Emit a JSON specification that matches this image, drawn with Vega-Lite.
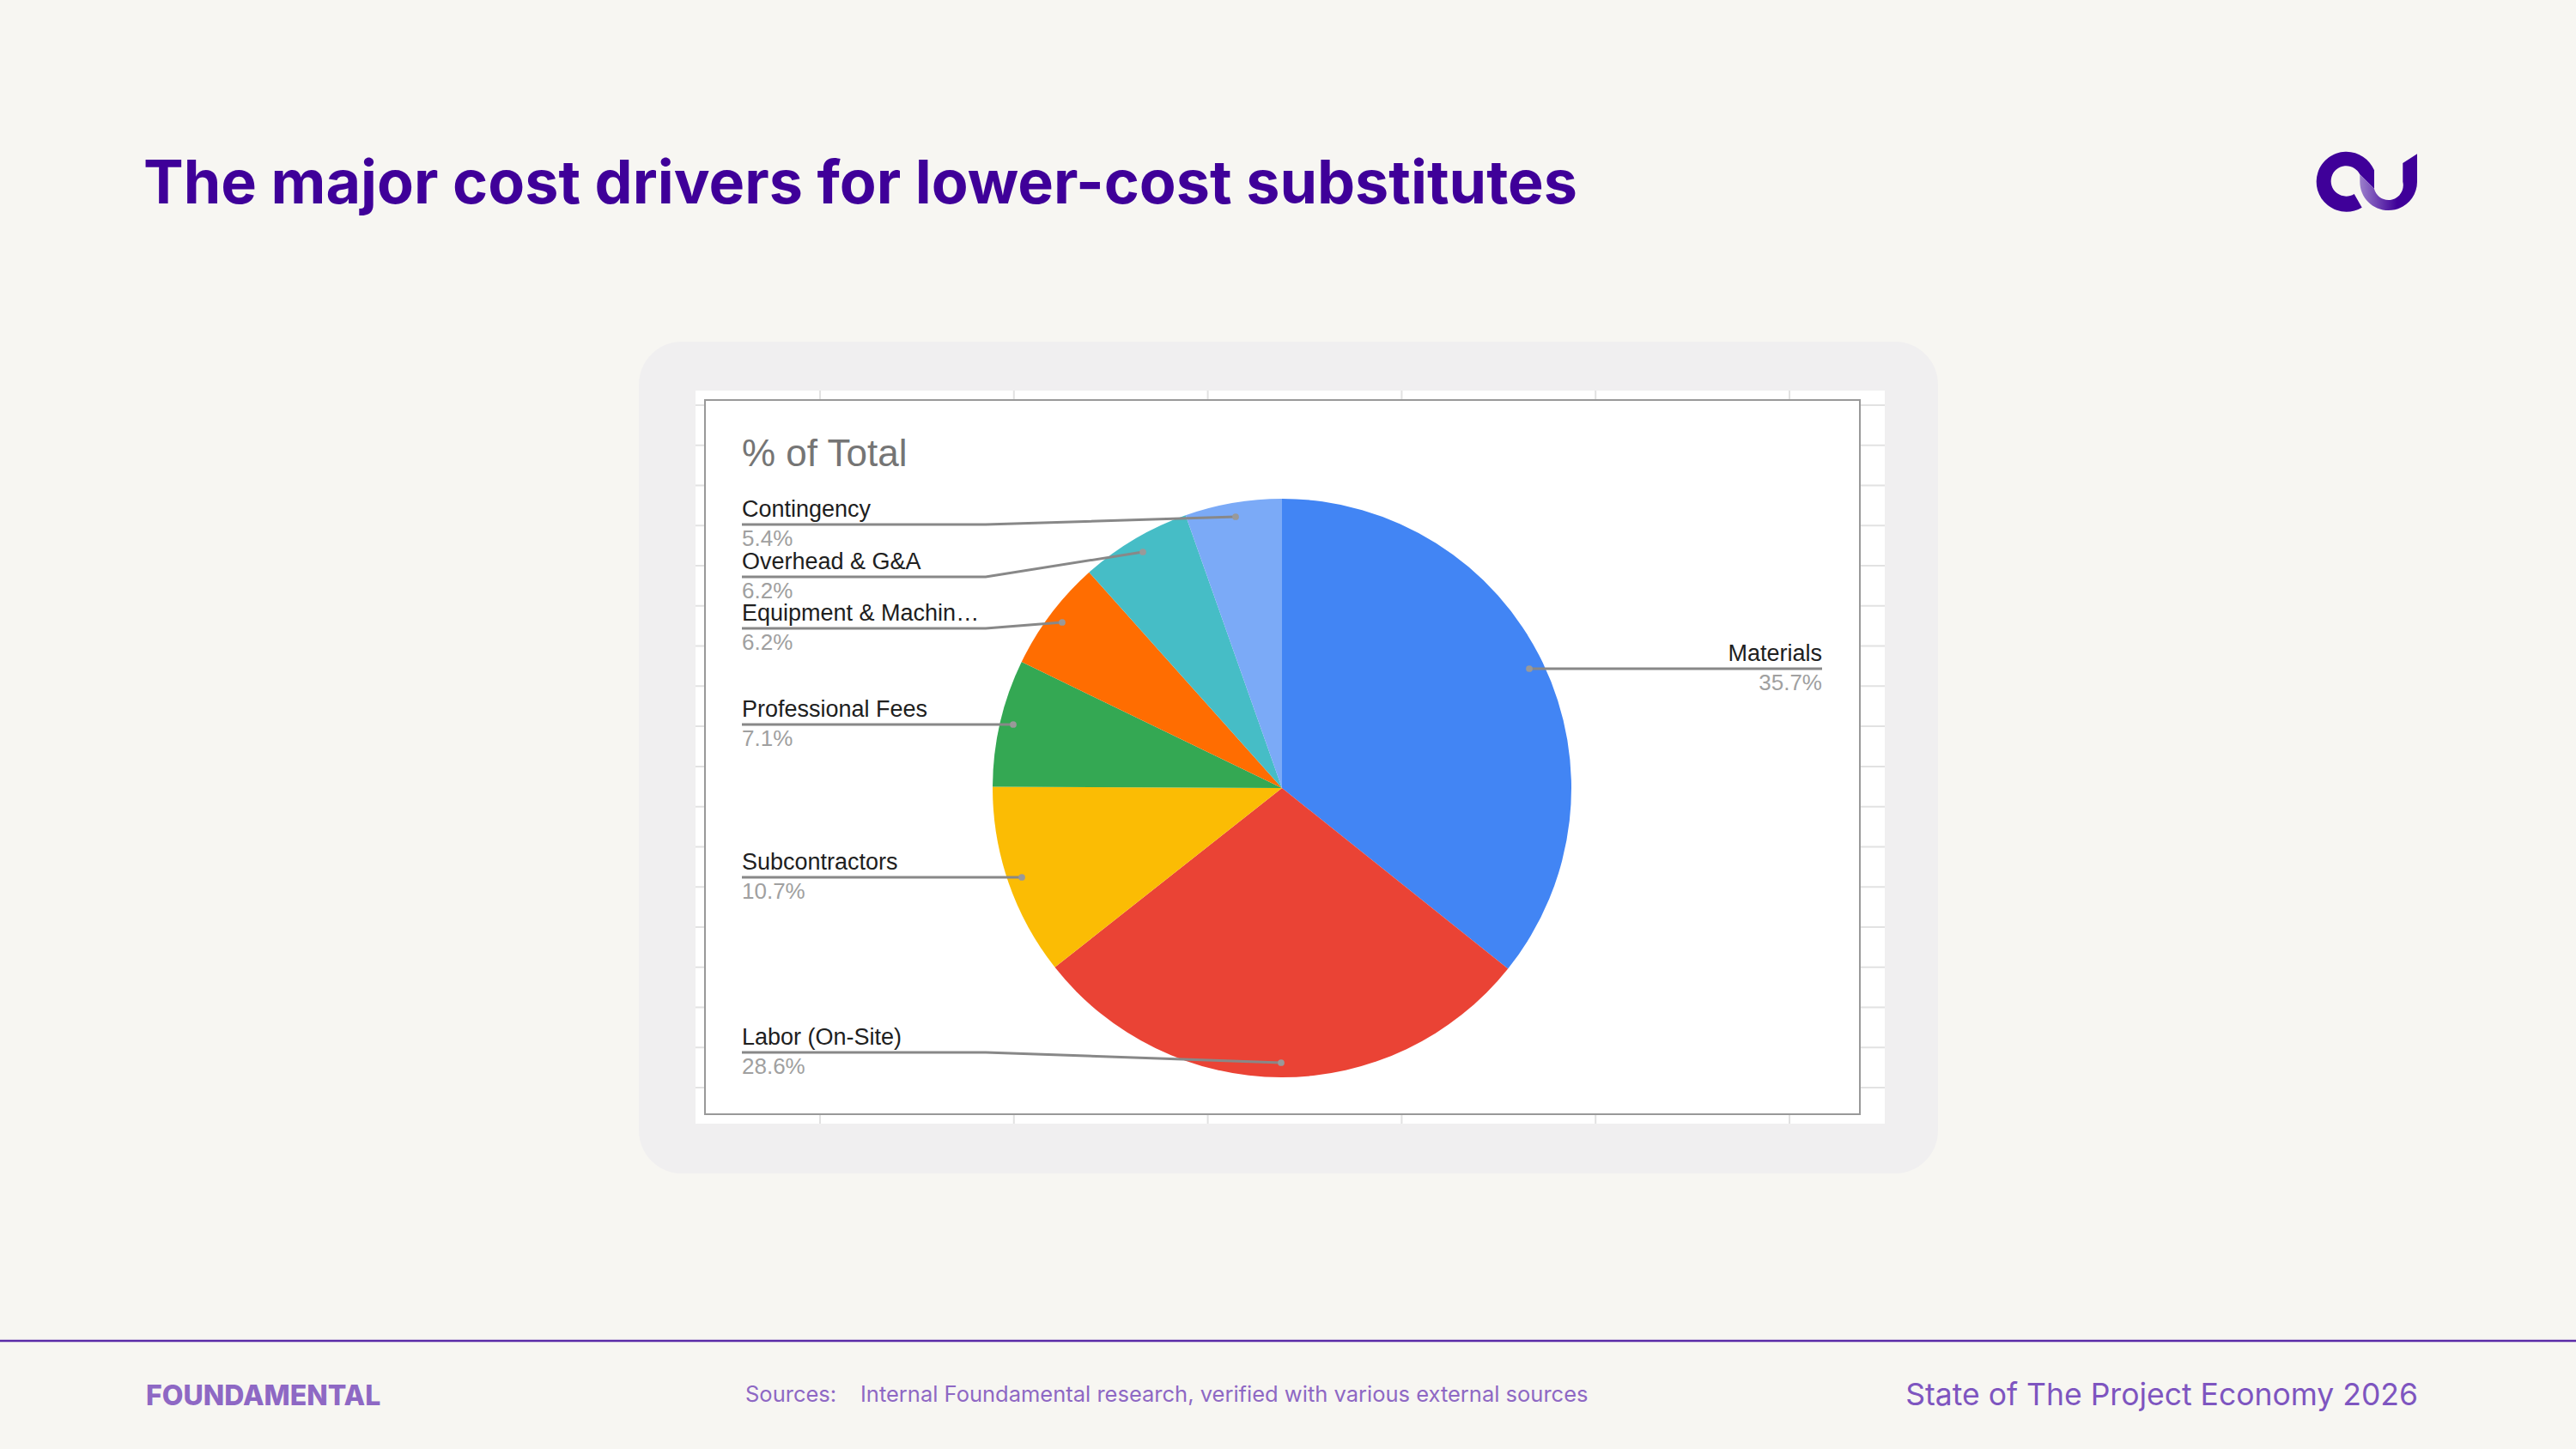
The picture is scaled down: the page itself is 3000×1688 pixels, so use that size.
{
  "$schema": "https://vega.github.io/schema/vega-lite/v6.json",
  "width": 3000,
  "height": 1688,
  "padding": 0,
  "autosize": "none",
  "background": "#F7F6F2",
  "config": {"view": {"stroke": null}},
  "data": {
    "values": [
      {"item": "Materials", "label": "Materials", "share": 0.357, "rank": 1, "dot": 1, "elbow": 11, "anchor": 21},
      {"item": "Labor (On-Site)", "label": "Labor (On-Site)", "share": 0.286, "rank": 2, "dot": 2, "elbow": 12, "anchor": 22},
      {"item": "Subcontractors", "label": "Subcontractors", "share": 0.107, "rank": 3, "dot": 3, "elbow": 13, "anchor": 23},
      {"item": "Professional Fees", "label": "Professional Fees", "share": 0.071, "rank": 4, "dot": 4, "elbow": 14, "anchor": 24},
      {"item": "Equipment & Machinery", "label": "Equipment & Machin…", "share": 0.062, "rank": 5, "dot": 5, "elbow": 15, "anchor": 25},
      {"item": "Overhead & G&A", "label": "Overhead & G&A", "share": 0.062, "rank": 6, "dot": 6, "elbow": 16, "anchor": 26},
      {"item": "Contingency", "label": "Contingency", "share": 0.054, "rank": 7, "dot": 7, "elbow": 17, "anchor": 27}
    ]
  },
  "resolve": {"scale": {"x": "independent", "y": "independent"}},
  "layer": [
    {
      "data": {"values": [{}]},
      "mark": {"type": "rect", "fill": "#F0EFF0", "cornerRadius": 50},
      "encoding": {"x": {"value": 744}, "x2": {"value": 2257}, "y": {"value": 398}, "y2": {"value": 1367}}
    },
    {
      "data": {"values": [{}]},
      "mark": {"type": "rect", "fill": "#FFFFFF"},
      "encoding": {"x": {"value": 810}, "x2": {"value": 2195}, "y": {"value": 455}, "y2": {"value": 1309}}
    },
    {
      "data": {"values": [{"col": 1}, {"col": 2}, {"col": 3}, {"col": 4}, {"col": 5}, {"col": 6}]},
      "mark": {"type": "rule", "stroke": "#E2E2E2", "strokeWidth": 2},
      "encoding": {
        "x": {"field": "col", "type": "quantitative", "axis": null, "scale": {"domain": [1, 6], "range": [955, 2084], "zero": false, "nice": false}},
        "y": {"value": 455},
        "y2": {"value": 1309}
      }
    },
    {
      "data": {"values": [{"row": 1}, {"row": 2}, {"row": 3}, {"row": 4}, {"row": 5}, {"row": 6}, {"row": 7}, {"row": 8}, {"row": 9}, {"row": 10}, {"row": 11}, {"row": 12}, {"row": 13}, {"row": 14}, {"row": 15}, {"row": 16}, {"row": 17}, {"row": 18}]},
      "mark": {"type": "rule", "stroke": "#E2E2E2", "strokeWidth": 2},
      "encoding": {
        "y": {"field": "row", "type": "quantitative", "axis": null, "scale": {"domain": [1, 18], "range": [472, 1267], "zero": false, "nice": false}},
        "x": {"value": 810},
        "x2": {"value": 2195}
      }
    },
    {
      "data": {"values": [{}]},
      "mark": {"type": "rect", "fill": "#FFFFFF", "stroke": "#999999", "strokeWidth": 2},
      "encoding": {"x": {"value": 821}, "x2": {"value": 2166}, "y": {"value": 466}, "y2": {"value": 1298}}
    },
    {
      "mark": {"type": "arc", "radius": 337},
      "encoding": {
        "x": {"value": 1493},
        "y": {"value": 918},
        "theta": {"field": "share", "type": "quantitative", "stack": true},
        "order": {"field": "rank", "type": "quantitative"},
        "color": {
          "field": "item",
          "type": "nominal",
          "legend": null,
          "scale": {
            "domain": ["Materials", "Labor (On-Site)", "Subcontractors", "Professional Fees", "Equipment & Machinery", "Overhead & G&A", "Contingency"],
            "range": ["#4285F4", "#EA4335", "#FBBC04", "#34A853", "#FF6D01", "#46BDC6", "#7BAAF7"]
          }
        }
      }
    },
    {
      "layer": [
        {
          "transform": [{"fold": ["dot", "elbow", "anchor"], "as": ["vertex", "node"]}],
          "mark": {"type": "line", "stroke": "#888888", "strokeWidth": 3, "interpolate": "linear"},
          "encoding": {
            "x": {
              "field": "node",
              "type": "quantitative",
              "axis": null,
              "scale": {
                "domain": [1, 2, 3, 4, 5, 6, 7, 11, 12, 13, 14, 15, 16, 17, 21, 22, 23, 24, 25, 26, 27],
                "range": [1781, 1492, 1190, 1180, 1237, 1331, 1439, 1781, 1148, 1148, 1148, 1148, 1148, 1148, 2122, 864, 864, 864, 864, 864, 864],
                "zero": false,
                "nice": false
              }
            },
            "y": {
              "field": "node",
              "type": "quantitative",
              "axis": null,
              "scale": {
                "domain": [1, 2, 3, 4, 5, 6, 7, 11, 12, 13, 14, 15, 16, 17, 21, 22, 23, 24, 25, 26, 27],
                "range": [779, 1238, 1022, 844, 725, 643, 602, 779, 1226, 1022, 844, 732, 672, 611, 779, 1226, 1022, 844, 732, 672, 611],
                "zero": false,
                "nice": false
              }
            },
            "detail": {"field": "item"},
            "order": {"field": "node", "type": "quantitative"}
          }
        },
        {
          "mark": {"type": "circle", "fill": "#999999", "size": 60, "opacity": 1},
          "encoding": {
            "x": {"field": "dot", "type": "quantitative"},
            "y": {"field": "dot", "type": "quantitative"}
          }
        },
        {
          "transform": [{"filter": "datum.rank > 1"}],
          "mark": {"type": "text", "align": "left", "baseline": "alphabetic", "font": "Liberation Sans", "fontSize": 27, "fill": "#202020", "dy": -9},
          "encoding": {
            "x": {"field": "anchor", "type": "quantitative"},
            "y": {"field": "anchor", "type": "quantitative"},
            "text": {"field": "label"}
          }
        },
        {
          "transform": [{"filter": "datum.rank > 1"}],
          "mark": {"type": "text", "align": "left", "baseline": "alphabetic", "font": "Liberation Sans", "fontSize": 26, "fill": "#A0A0A0", "dy": 25},
          "encoding": {
            "x": {"field": "anchor", "type": "quantitative"},
            "y": {"field": "anchor", "type": "quantitative"},
            "text": {"field": "share", "type": "quantitative", "format": ".1%"}
          }
        },
        {
          "transform": [{"filter": "datum.rank == 1"}],
          "mark": {"type": "text", "align": "right", "baseline": "alphabetic", "font": "Liberation Sans", "fontSize": 27, "fill": "#202020", "dy": -9},
          "encoding": {
            "x": {"field": "anchor", "type": "quantitative"},
            "y": {"field": "anchor", "type": "quantitative"},
            "text": {"field": "label"}
          }
        },
        {
          "transform": [{"filter": "datum.rank == 1"}],
          "mark": {"type": "text", "align": "right", "baseline": "alphabetic", "font": "Liberation Sans", "fontSize": 26, "fill": "#A0A0A0", "dy": 25},
          "encoding": {
            "x": {"field": "anchor", "type": "quantitative"},
            "y": {"field": "anchor", "type": "quantitative"},
            "text": {"field": "share", "type": "quantitative", "format": ".1%"}
          }
        }
      ]
    },
    {
      "data": {"values": [{"t": "% of Total"}]},
      "mark": {"type": "text", "align": "left", "baseline": "alphabetic", "font": "Liberation Sans", "fontSize": 44, "fill": "#757575"},
      "encoding": {"x": {"value": 864}, "y": {"value": 543}, "text": {"field": "t"}}
    },
    {
      "data": {"values": [{"t": "The major cost drivers for lower-cost substitutes"}]},
      "mark": {"type": "text", "align": "left", "baseline": "alphabetic", "font": "Inter", "fontWeight": 700, "fontSize": 70, "fill": "#3F0099"},
      "encoding": {"x": {"value": 167}, "y": {"value": 237}, "text": {"field": "t"}}
    },
    {
      "data": {"values": [{}]},
      "mark": {"type": "point", "filled": true, "fill": "#3F0099", "opacity": 1, "strokeWidth": 0, "size": 4, "shape": "M110.7,101.7A35,35,0,1,1,125,58.3L125,80L108.3,63.3A17.7,17.7,0,1,0,101.7,86Z"},
      "encoding": {"x": {"value": 2640}, "y": {"value": 140}}
    },
    {
      "data": {"values": [{}]},
      "mark": {
        "type": "point",
        "filled": true,
        "fill": {"gradient": "linear", "x1": 0, "y1": 0, "x2": 1, "y2": 0, "stops": [{"offset": 0, "color": "#9B7FCB"}, {"offset": 0.65, "color": "#3F0099"}, {"offset": 1, "color": "#3F0099"}]},
        "opacity": 1,
        "strokeWidth": 0,
        "size": 4,
        "shape": "M108.3,63.3L125,80A17,17,0,0,0,158.3,71.7L158.3,50L175,39.3L175,71.7A33.3,33.3,0,0,1,108.3,71.7Z"
      },
      "encoding": {"x": {"value": 2640}, "y": {"value": 140}}
    },
    {
      "data": {"values": [{}]},
      "mark": {"type": "rule", "stroke": "#5A2BA8", "strokeWidth": 2.5},
      "encoding": {"x": {"value": 0}, "x2": {"value": 3000}, "y": {"value": 1562}}
    },
    {
      "data": {"values": [{"t": "FOUNDAMENTAL"}]},
      "mark": {"type": "text", "align": "left", "baseline": "alphabetic", "font": "Inter", "fontWeight": 800, "fontSize": 32, "fill": "#8E68C4"},
      "encoding": {"x": {"value": 170}, "y": {"value": 1637}, "text": {"field": "t"}}
    },
    {
      "data": {"values": [{"t": "Sources:"}]},
      "mark": {"type": "text", "align": "left", "baseline": "alphabetic", "font": "Inter", "fontSize": 25.5, "fill": "#8E68C4"},
      "encoding": {"x": {"value": 868}, "y": {"value": 1633}, "text": {"field": "t"}}
    },
    {
      "data": {"values": [{"t": "Internal Foundamental research, verified with various external sources"}]},
      "mark": {"type": "text", "align": "left", "baseline": "alphabetic", "font": "Inter", "fontSize": 25.5, "fill": "#8E68C4"},
      "encoding": {"x": {"value": 1002}, "y": {"value": 1633}, "text": {"field": "t"}}
    },
    {
      "data": {"values": [{"t": "State of The Project Economy 2026"}]},
      "mark": {"type": "text", "align": "right", "baseline": "alphabetic", "font": "Inter", "fontSize": 35.5, "fill": "#7E55C0"},
      "encoding": {"x": {"value": 2816}, "y": {"value": 1637}, "text": {"field": "t"}}
    }
  ]
}
